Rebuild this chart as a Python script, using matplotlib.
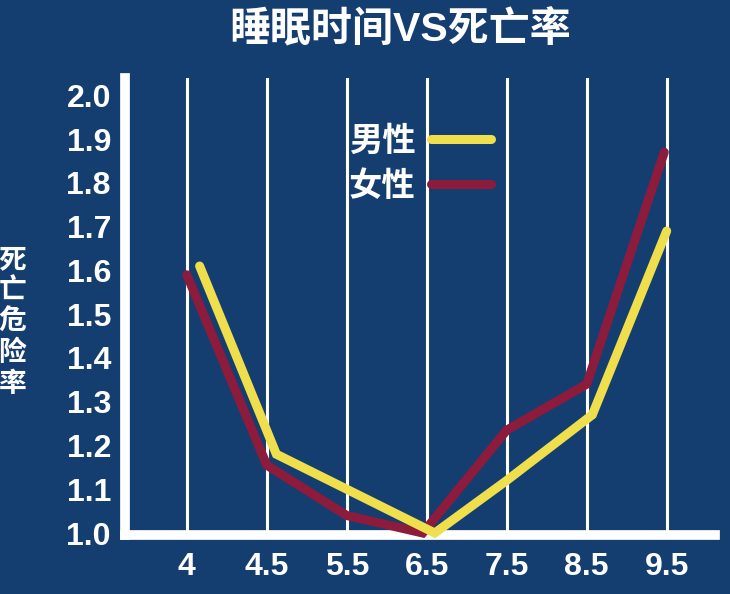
import matplotlib
matplotlib.use("Agg")
import matplotlib.pyplot as plt

plt.rcParams['font.family'] = ['Liberation Sans', 'Noto Sans CJK SC', 'DejaVu Sans']

# data
hours = ["4", "4.5", "5.5", "6.5", "7.5", "8.5", "9.5"]
male_pos = [0.16, 1.12, 2.0, 3.1, 4.0, 5.07, 6.0]
male_risk = [1.61, 1.18, 1.10, 1.00, 1.12, 1.27, 1.69]
female_pos = [0.0, 1.0, 2.0, 2.95, 4.0, 5.0, 5.97]
female_risk = [1.59, 1.155, 1.04, 1.00, 1.235, 1.34, 1.87]
yticks = [1.0, 1.1, 1.2, 1.3, 1.4, 1.5, 1.6, 1.7, 1.8, 1.9, 2.0]

BG = '#153e70'
YELLOW = '#f0df4c'
RED = '#8c1b3c'

fig = plt.figure(figsize=(7.3, 5.94), dpi=100, facecolor=BG)
ax = fig.add_axes([0.171, 0.099, 0.808, 0.770])
ax.set_facecolor(BG)

for i in range(len(hours)):
    ax.axvline(i, color='white', lw=2.2, zorder=1)

ax.plot(male_pos, male_risk, color=YELLOW, lw=6.5, solid_capstyle='round',
        solid_joinstyle='miter', zorder=4, clip_on=False, label='男性')
ax.plot(female_pos, female_risk, color=RED, lw=6.5, solid_capstyle='round',
        solid_joinstyle='miter', zorder=3, clip_on=False, label='女性')

ax.set_xlim(-0.775, 6.6)
ax.set_ylim(0.995, 2.04)
ax.set_xticks(range(len(hours)))
ax.set_xticklabels(hours)
ax.set_yticks(yticks)
ax.set_yticklabels([f"{v:.1f}" for v in yticks])
ax.tick_params(colors='white', length=0, labelsize=23)
ax.tick_params(axis='y', pad=10)
ax.tick_params(axis='x', pad=12)
for lab in ax.get_xticklabels() + ax.get_yticklabels():
    lab.set_fontweight('bold')

for side in ['top', 'right']:
    ax.spines[side].set_visible(False)
for side in ['left', 'bottom']:
    ax.spines[side].set_color('white')
    ax.spines[side].set_linewidth(7)

leg = ax.legend(loc='upper left', bbox_to_anchor=(0.352, 0.93), frameon=False,
                markerfirst=False, handlelength=1.8, handletextpad=0.45,
                labelspacing=0.4, borderpad=0,
                prop={'size': 24, 'weight': 'bold'})
for t in leg.get_texts():
    t.set_color('white')

fig.text(0.548, 0.950, '睡眠时间VS死亡率', color='white', fontsize=29.5,
         fontweight='bold', ha='center', va='center')
fig.text(0.017, 0.456, '\n'.join('死亡危险率'), color='white', fontsize=20,
         fontweight='bold', ha='center', va='center', linespacing=1.25)

fig.savefig('out.png', dpi=100, facecolor=BG)
